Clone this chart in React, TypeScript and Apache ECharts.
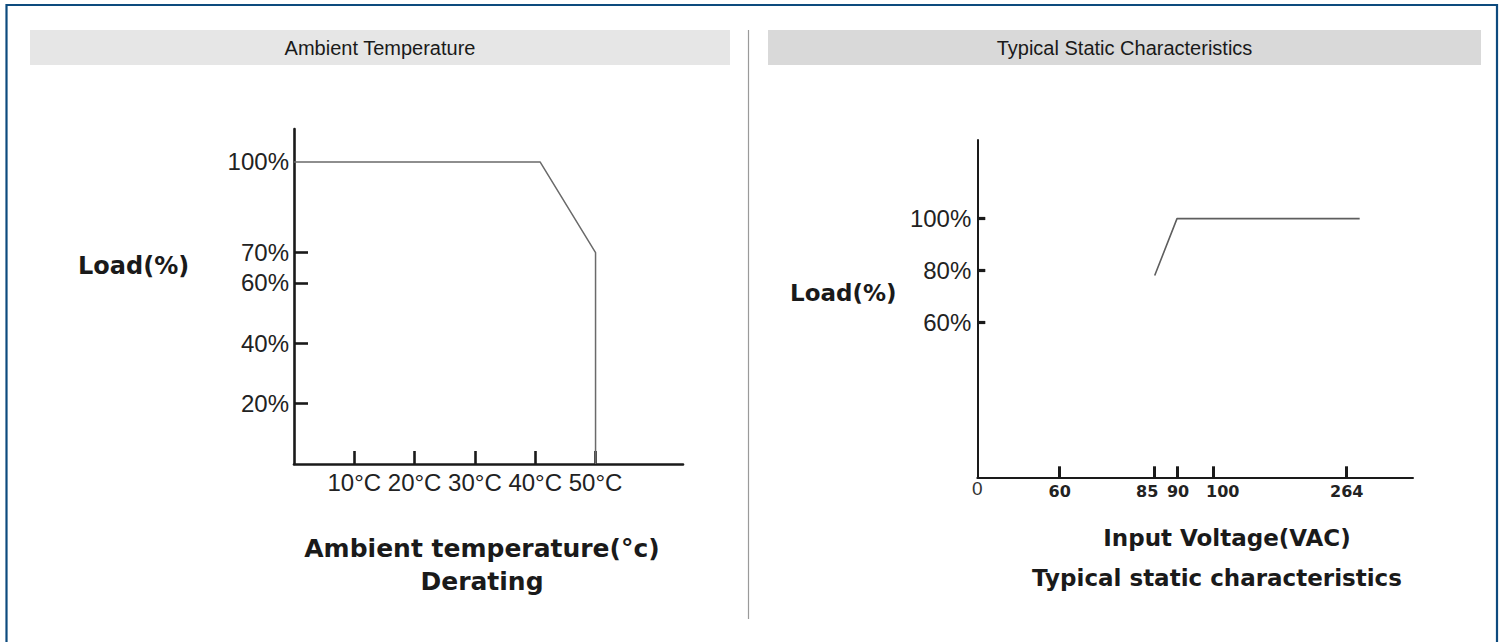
import React, { useEffect, useRef } from "react";
import * as echarts from "echarts";

// ---------- data ----------
const tempC = [0, 40.8, 50, 50];
const tempLoad = [100, 100, 70, 0];
const tempTicks = [10, 20, 30, 40, 50];
const leftLoadTicks = [20, 40, 60, 70];
const leftLoadLabels = [20, 40, 60, 70, 100];

const voltage = [85, 90, 280];
const voltLoad = [78, 100, 100];
const voltTicks = [0, 60, 85, 90, 100, 264];
const rightLoadTicks = [60, 80, 100];

const headerLeft = "Ambient Temperature";
const headerRight = "Typical Static Characteristics";

// ---------- layout (schematic, non-linear voltage axis) ----------
const VOLT_STOP_POS = [0, 82.4, 177.4, 199.7, 236.4, 369.4];
const VOLT_AXIS_LEN = 435.7;
// label style key per voltage tick (nudges crowded labels apart)
const VOLT_LABEL_STYLE = ["z", "b", "l", "b2", "r", "b"];

function voltToAxis(v: number): number {
  const s = voltTicks;
  const p = VOLT_STOP_POS;
  let i = 0;
  while (i < s.length - 2 && v > s[i + 1]) i++;
  const t = (v - s[i]) / (s[i + 1] - s[i]);
  return p[i] + t * (p[i + 1] - p[i]);
}

const BOLD = "'DejaVu Sans', 'Liberation Sans', sans-serif";
const REG = "'Liberation Sans', Arial, sans-serif";

export default function App() {
  const ref = useRef<HTMLDivElement>(null);
  useEffect(() => {
    if (!ref.current) return;
    const chart = echarts.init(ref.current, undefined, { renderer: "svg" });
    const axisColor = "#1a1a1a";
    const bTick = { fontFamily: BOLD, fontWeight: "bold", fontSize: 16, color: "#222" };
    const option: any = {
      animation: false,
      grid: [
        { left: 294, top: 129, width: 389, height: 335 },
        { left: 977.3, top: 140, width: VOLT_AXIS_LEN, height: 337.3 },
      ],
      xAxis: [
        {
          type: "value",
          gridIndex: 0,
          min: 0,
          max: 64.5,
          axisLine: { show: true, lineStyle: { color: axisColor, width: 2.6 } },
          axisTick: { show: true, inside: true, length: 13, customValues: tempTicks, lineStyle: { color: axisColor, width: 2.6 } },
          axisLabel: {
            customValues: tempTicks,
            formatter: (v: number) => `${v}°C`,
            color: "#222",
            fontFamily: REG,
            fontSize: 24,
            margin: 6,
          },
          splitLine: { show: false },
        },
        {
          type: "value",
          gridIndex: 1,
          min: 0,
          max: VOLT_AXIS_LEN,
          axisLine: { show: true, lineStyle: { color: axisColor, width: 2 } },
          axisTick: {
            show: true,
            inside: true,
            length: 11,
            customValues: voltTicks.slice(1).map(voltToAxis),
            lineStyle: { color: axisColor, width: 3 },
          },
          axisLabel: {
            customValues: voltTicks.map(voltToAxis),
            formatter: (val: number) => {
              let idx = 0;
              let best = Infinity;
              voltTicks.forEach((t, i) => {
                const d = Math.abs(voltToAxis(t) - val);
                if (d < best) {
                  best = d;
                  idx = i;
                }
              });
              return `{${VOLT_LABEL_STYLE[idx]}|${voltTicks[idx]}}`;
            },
            margin: 2,
            rich: {
              z: { fontFamily: REG, fontSize: 19, color: "#333" },
              b: { ...bTick, padding: [4, 0, 0, 0] },
              b2: { ...bTick, padding: [4, 0, 0, 2] },
              l: { ...bTick, padding: [4, 15, 0, 0] },
              r: { ...bTick, padding: [4, 0, 0, 18] },
            },
          },
          splitLine: { show: false },
        },
      ],
      yAxis: [
        {
          type: "value",
          gridIndex: 0,
          min: 0,
          max: 110.9,
          axisLine: { show: true, lineStyle: { color: axisColor, width: 2.6 } },
          axisTick: { show: true, inside: true, length: 14, customValues: leftLoadTicks, lineStyle: { color: axisColor, width: 2.6 } },
          axisLabel: {
            customValues: leftLoadLabels,
            formatter: (v: number) => `${v}%`,
            color: "#222",
            fontFamily: REG,
            fontSize: 24,
            margin: 5,
          },
          splitLine: { show: false },
        },
        {
          type: "value",
          gridIndex: 1,
          min: 0,
          max: 130.4,
          axisLine: { show: true, lineStyle: { color: axisColor, width: 2 } },
          axisTick: { show: true, inside: true, length: 8, customValues: rightLoadTicks, lineStyle: { color: axisColor, width: 3.2 } },
          axisLabel: {
            customValues: rightLoadTicks,
            formatter: (v: number) => `${v}%`,
            color: "#222",
            fontFamily: REG,
            fontSize: 24,
            margin: 6,
          },
          splitLine: { show: false },
        },
      ],
      series: [
        {
          type: "line",
          xAxisIndex: 0,
          yAxisIndex: 0,
          data: tempC.map((c, i) => [c, tempLoad[i]]),
          symbol: "none",
          lineStyle: { color: "#6a6a6a", width: 1.5 },
          z: 1,
        },
        {
          type: "line",
          xAxisIndex: 1,
          yAxisIndex: 1,
          data: voltage.map((v, i) => [voltToAxis(v), voltLoad[i]]),
          symbol: "none",
          lineStyle: { color: "#5e5e5e", width: 1.6 },
          z: 1,
        },
      ],
      graphic: [
        {
          type: "rect",
          shape: { x: 6.5, y: 5, width: 1490.5, height: 660 },
          style: { fill: "none", stroke: "#0d4b7e", lineWidth: 2.2 },
          silent: true,
        },
        { type: "rect", shape: { x: 30, y: 30, width: 700, height: 35 }, style: { fill: "#e6e6e6" }, silent: true },
        { type: "rect", shape: { x: 768, y: 30, width: 713, height: 35 }, style: { fill: "#d9d9d9" }, silent: true },
        {
          type: "line",
          shape: { x1: 748.5, y1: 30, x2: 748.5, y2: 619 },
          style: { stroke: "#9a9a9a", lineWidth: 1.2 },
          silent: true,
        },
        {
          type: "text",
          x: 380,
          y: 48,
          style: { text: headerLeft, fill: "#1a1a1a", font: `20px ${REG}`, textAlign: "center", textVerticalAlign: "middle" },
        },
        {
          type: "text",
          x: 1124.5,
          y: 48,
          style: { text: headerRight, fill: "#1a1a1a", font: `20px ${REG}`, textAlign: "center", textVerticalAlign: "middle" },
        },
        {
          type: "text",
          x: 78,
          y: 266,
          style: { text: "Load(%)", fill: "#1a1a1a", font: `bold 24px ${BOLD}`, textAlign: "left", textVerticalAlign: "middle" },
        },
        {
          type: "text",
          x: 790,
          y: 293,
          style: { text: "Load(%)", fill: "#1a1a1a", font: `bold 23px ${BOLD}`, textAlign: "left", textVerticalAlign: "middle" },
        },
        {
          type: "text",
          x: 482,
          y: 548,
          style: { text: "Ambient temperature(°c)", fill: "#1a1a1a", font: `bold 25px ${BOLD}`, textAlign: "center", textVerticalAlign: "middle" },
        },
        {
          type: "text",
          x: 482,
          y: 581,
          style: { text: "Derating", fill: "#1a1a1a", font: `bold 25px ${BOLD}`, textAlign: "center", textVerticalAlign: "middle" },
        },
        {
          type: "text",
          x: 1227,
          y: 538,
          style: { text: "Input Voltage(VAC)", fill: "#1a1a1a", font: `bold 23px ${BOLD}`, textAlign: "center", textVerticalAlign: "middle" },
        },
        {
          type: "text",
          x: 1217,
          y: 578,
          style: { text: "Typical static characteristics", fill: "#1a1a1a", font: `bold 23px ${BOLD}`, textAlign: "center", textVerticalAlign: "middle" },
        },
      ],
    };
    chart.setOption(option);
    return () => chart.dispose();
  }, []);
  return (
    <div
      ref={ref}
      style={{ position: "fixed", left: 0, top: 0, width: 1501, height: 642, background: "#fff" }}
    />
  );
}
